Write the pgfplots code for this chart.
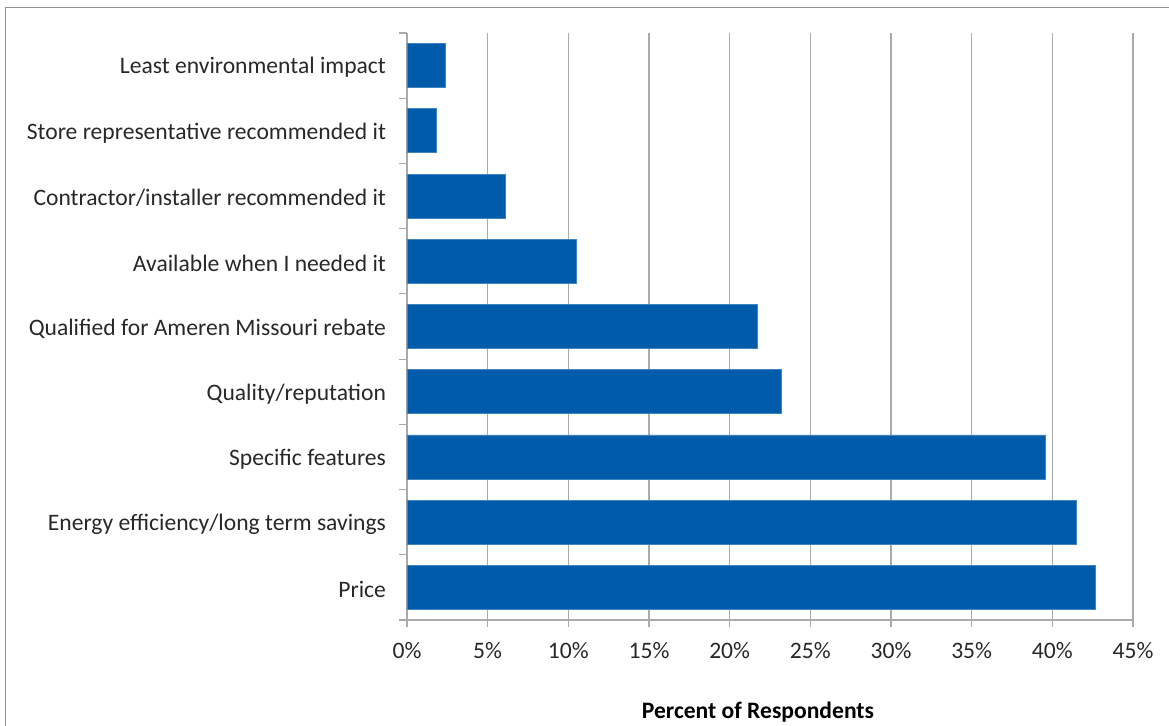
\documentclass[border=0pt]{standalone}
\usepackage{fontspec}
\setmainfont{Carlito}
\usepackage{pgfplots}
\pgfplotsset{compat=1.18}

\definecolor{barblue}{RGB}{0,91,170}
\definecolor{gridgray}{RGB}{170,170,170}
\definecolor{txt}{RGB}{40,40,40}

\begin{document}
\begin{tikzpicture}
\useasboundingbox (-203.5pt,-52.5pt) rectangle (381pt,310pt);
% frame of the chart area (only top and left edges are in view)
\draw[gridgray!85!black, line width=0.75pt] (-200.75pt,-60pt) -- (-200.75pt,306.25pt) -- (390pt,306.25pt);
\begin{axis}[
    at={(0,0)}, anchor=south west,
    scale only axis,
    width=363pt, height=293.5pt,
    xbar, bar width=22pt,
    xmin=0, xmax=45,
    ymin=-0.5, ymax=8.5,
    axis x line*=bottom, axis y line*=left,
    axis line style={draw=gridgray, line width=0.6pt},
    xtick={0,5,...,45},
    xticklabels={0\%,5\%,10\%,15\%,20\%,25\%,30\%,35\%,40\%,45\%},
    xmajorgrids,
    grid style={draw=gridgray, line width=0.6pt},
    ytick={0,...,8},
    yticklabels={Price,
        Energy efficiency/long term savings,
        Specific features,
        Quality/reputation,
        Qualified for Ameren Missouri rebate,
        Available when I needed it,
        Contractor/installer recommended it,
        Store representative recommended it,
        Least environmental impact},
    minor ytick={-0.5,0.5,...,8.5},
    major y tick style={draw=none},
    minor y tick style={draw=gridgray, line width=0.6pt},
    major x tick style={draw=gridgray, line width=0.6pt},
    tick align=outside,
    major tick length=3.5pt,
    minor tick length=4pt,
    ticklabel style={font=\fontsize{11.8}{14}\selectfont, text=txt},
    y tick label style={xshift=-3.5pt, yshift=-1pt},
    x tick label style={yshift=-4pt},
    xlabel={\textbf{Percent of Respondents}},
    xlabel style={font=\fontsize{11.8}{14}\selectfont, text=black, xshift=-6pt, yshift=-15pt},
]
\addplot[fill=barblue, draw=barblue!75!white, line width=0.4pt] coordinates {
    (42.7,0) (41.5,1) (39.6,2) (23.2,3) (21.7,4)
    (10.5,5) (6.1,6) (1.85,7) (2.4,8)
};
\end{axis}
\end{tikzpicture}
\end{document}
